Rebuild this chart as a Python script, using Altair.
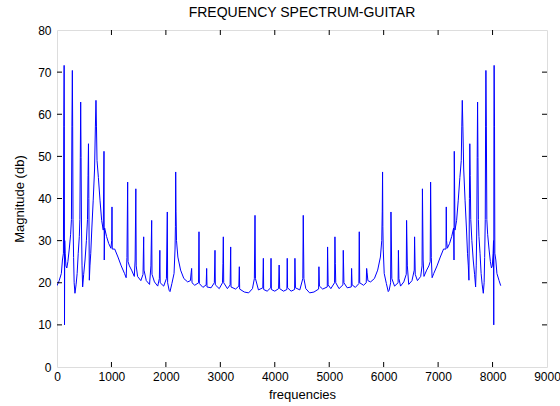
import altair as alt
import pandas as pd

# Frequency (Hz) and magnitude (dB), left half of the spectrum
freq_left = [0, 40, 80, 100, 118, 124, 131, 135, 138, 142, 150, 165, 180, 200, 225, 250, 265, 274, 282, 288,
             294, 305, 315, 330, 350, 370, 390, 410, 420, 428, 435, 442, 450, 460, 471, 490, 515, 540, 560, 570,
             578, 585, 594, 605, 620, 640, 665, 690, 705, 716, 725, 735, 760, 790, 820, 850, 863, 868, 875, 910,
             950, 990, 1005, 1010, 1015, 1060, 1120, 1180, 1240, 1270, 1285, 1298, 1305, 1330, 1370, 1420, 1435, 1448, 1455, 1480,
             1540, 1580, 1592, 1598, 1640, 1700, 1725, 1739, 1745, 1790, 1850, 1880, 1889, 1895, 1960, 2010, 2026, 2032, 2060, 2076,
             2110, 2150, 2168, 2175, 2180, 2186, 2195, 2220, 2270, 2330, 2400, 2450, 2465, 2473, 2480, 2530, 2600, 2608, 2615, 2680,
             2740, 2749, 2755, 2830, 2890, 2902, 2908, 2980, 3040, 3048, 3055, 3062, 3130, 3180, 3190, 3196, 3280, 3340, 3349, 3355,
             3440, 3520, 3590, 3625, 3637, 3645, 3700, 3780, 3790, 3796, 3860, 3925, 3931, 3937, 4000, 4070, 4080]
mag_left = [19.3, 20.5, 22.2, 25.4, 27, 57, 71.6, 57, 10, 30, 27, 24, 23.5, 25, 28, 31.5, 35, 57, 70.4, 57,
            35, 26, 20, 17.5, 19.5, 22.2, 27, 31, 35, 49.8, 62.9, 49.8, 33, 24, 19, 22, 25.4, 30, 35, 45.5,
            53, 40, 20.6, 24, 27, 33, 39.6, 47, 57, 63.3, 57, 49, 45, 39.6, 34.8, 32.5, 51.2, 25.4, 33, 31,
            29.3, 28.2, 30, 38, 28, 28, 26.1, 24, 22.2, 21.2, 26, 43.9, 25, 24, 23, 21.5, 25.4, 42.3, 24, 21.5,
            20.5, 22, 30.9, 23, 20.5, 19.6, 24, 34.8, 22, 20.2, 19.2, 21, 27.7, 20, 19.2, 21, 36.8, 20, 18.2, 17.9,
            19.8, 22.2, 28, 33.3, 46.3, 37, 30, 26.1, 23, 21, 20.2, 20.5, 22.5, 23.4, 20, 19.4, 20, 32.1, 19.8, 18.9,
            19.5, 23.4, 19, 18.8, 20, 27.7, 19.5, 18.6, 20, 24.6, 30.9, 20, 18.6, 19.5, 28.5, 19, 18.5, 19.2, 23.8, 18.5,
            17.8, 17.6, 18.6, 21, 36, 21, 18.3, 18.8, 25.8, 18.4, 18, 18.8, 25.8, 18.4, 18, 18.6, 24.2]

# Right half of the spectrum
freq_right = [4090, 4160, 4223, 4229, 4235, 4300, 4364, 4370, 4380, 4460, 4515, 4523, 4535, 4570, 4640, 4720, 4805, 4811, 4820, 4880,
              4964, 4970, 4980, 5030, 5098, 5105, 5112, 5120, 5180, 5252, 5258, 5270, 5330, 5405, 5411, 5420, 5480, 5545, 5552, 5560,
              5630, 5680, 5687, 5695, 5710, 5760, 5830, 5890, 5940, 5965, 5974, 5980, 5985, 5992, 6010, 6050, 6084, 6100, 6128, 6134,
              6150, 6200, 6265, 6271, 6280, 6310, 6370, 6415, 6421, 6435, 6460, 6520, 6562, 6568, 6580, 6620, 6680, 6705, 6712, 6725,
              6740, 6790, 6830, 6855, 6862, 6875, 6890, 6920, 6980, 7040, 7100, 7145, 7150, 7155, 7170, 7210, 7250, 7285, 7292, 7297,
              7310, 7340, 7370, 7400, 7425, 7435, 7444, 7455, 7470, 7495, 7520, 7540, 7555, 7566, 7575, 7582, 7590, 7600, 7620, 7645,
              7670, 7689, 7700, 7710, 7718, 7725, 7732, 7740, 7750, 7770, 7790, 7810, 7830, 7845, 7855, 7866, 7872, 7878, 7886, 7895,
              7910, 7935, 7960, 7980, 7995, 8010, 8018, 8022, 8025, 8029, 8036, 8042, 8060, 8080, 8120, 8150]
mag_right = [18.6, 18, 18.4, 25.8, 18.8, 18, 18.4, 25.8, 18.8, 18.3, 21, 36, 21, 18.6, 17.6, 17.8, 18.5, 23.8, 19.2, 18.5,
             19, 28.5, 19.5, 18.6, 20, 30.9, 24.6, 20, 18.6, 19.5, 27.7, 20, 18.8, 19, 23.4, 19.5, 18.9, 19.8, 32.1, 20,
             19.4, 20, 23.4, 22.5, 20.5, 20.2, 21, 23, 26.1, 30, 37, 46.3, 33.3, 28, 22.2, 19.8, 17.9, 18.2, 20, 36.8,
             21, 19.2, 20, 27.7, 21, 19.2, 20.2, 22, 34.8, 24, 19.6, 20.5, 23, 30.9, 22, 20.5, 21.5, 24, 42.3, 25.4,
             21.5, 23, 24, 25, 43.9, 26, 21.2, 22.2, 24, 26.1, 28, 28, 38, 30, 28.2, 29.3, 31, 33, 25.4, 51.2,
             32.5, 34.8, 39.6, 45, 49, 57, 63.3, 57, 47, 39.6, 33, 27, 24, 20.6, 40, 53, 45.5, 35, 30, 25.4,
             22, 19, 24, 33, 49.8, 62.9, 49.8, 35, 31, 27, 22.2, 19.5, 17.5, 20, 26, 35, 57, 70.4, 57, 35,
             31.5, 28, 25, 23.5, 24, 27, 30, 10, 57, 71.6, 57, 27, 25.4, 22.2, 20.5, 19.3]

x_ticks = [0, 1000, 2000, 3000, 4000, 5000, 6000, 7000, 8000, 9000]
y_ticks = [0, 10, 20, 30, 40, 50, 60, 70, 80]

df = pd.DataFrame({"f": freq_left + freq_right, "m": mag_left + mag_right})
df["order"] = range(len(df))

W, H = 490, 337
FONT = "Liberation Sans"

x_scale = alt.Scale(domain=[0, 9000], nice=False, zero=False)
y_scale = alt.Scale(domain=[0, 80], nice=False, zero=False)

axis_common = dict(ticks=False, domain=False, grid=False, format="d", labelFlush=False, labelOverlap=False,
                   labelFont=FONT, labelFontSize=12, labelColor="#000000",
                   titleFont=FONT, titleFontSize=13, titleColor="#000000", titleFontWeight="normal")

line = alt.Chart(df).mark_line(color="#0000FF", strokeWidth=1, clip=True).encode(
    x=alt.X("f:Q", scale=x_scale,
            axis=alt.Axis(values=x_ticks, title="frequencies", labelPadding=4, titlePadding=6, **axis_common)),
    y=alt.Y("m:Q", scale=y_scale,
            axis=alt.Axis(values=y_ticks, title="Magnitude (db)", labelPadding=6, titlePadding=11, **axis_common)),
    order="order:Q",
)

xt = pd.DataFrame({"t": x_ticks[1:-1]})
yt = pd.DataFrame({"t": y_ticks[1:-1]})
tick_style = dict(color="#000000", strokeWidth=1)

xb = alt.Chart(xt).mark_rule(**tick_style).encode(x=alt.X("t:Q", scale=x_scale), y=alt.value(H), y2=alt.value(H - 5))
xtop = alt.Chart(xt).mark_rule(**tick_style).encode(x=alt.X("t:Q", scale=x_scale), y=alt.value(0), y2=alt.value(5))
yl = alt.Chart(yt).mark_rule(**tick_style).encode(y=alt.Y("t:Q", scale=y_scale), x=alt.value(0), x2=alt.value(5))
yr = alt.Chart(yt).mark_rule(**tick_style).encode(y=alt.Y("t:Q", scale=y_scale), x=alt.value(W), x2=alt.value(W - 5))

chart = alt.layer(line, xb, xtop, yl, yr).properties(
    width=W, height=H,
    title=alt.TitleParams("FREQUENCY SPECTRUM-GUITAR", font=FONT, fontSize=14, fontWeight="normal",
                          color="#000000", anchor="middle", offset=4),
    padding={"left": 57, "top": 30, "right": 13, "bottom": 39},
    autosize="none",
).configure_view(stroke="#000000", strokeWidth=1).configure(background="#FFFFFF")

chart.save("out.html", embed_options={"renderer": "svg", "actions": False})
